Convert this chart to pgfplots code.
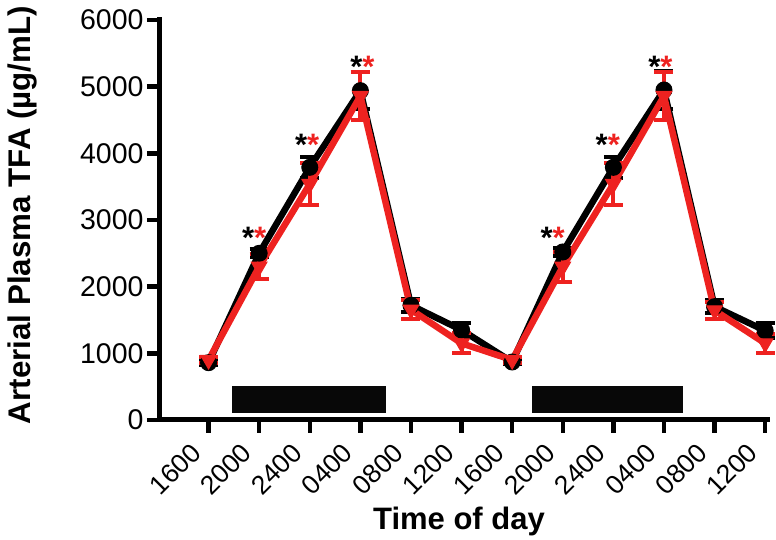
\documentclass[border=0pt]{standalone}
\usepackage{pgfplots}
\pgfplotsset{compat=1.18}
\usepackage{fontspec}
\setmainfont{Liberation Sans}
\definecolor{pred}{RGB}{238,34,32}
\begin{document}
\begin{tikzpicture}
\begin{axis}[
  scale only axis,
  width=607.7pt, height=400pt,
  xmin=-0.96, xmax=11.05,
  ymin=0, ymax=6000,
  axis x line=bottom, axis y line=left,
  axis line style={-, line width=5pt, line cap=rect},
  xtick={0,...,11},
  xticklabels={1600,2000,2400,0400,0800,1200,1600,2000,2400,0400,0800,1200},
  ytick={0,1000,...,6000},
  tick align=outside,
  major tick length=13pt,
  every tick/.style={black, line width=4.5pt},
  /pgf/number format/assume math mode=true,
  /pgf/number format/1000 sep={},
  scaled y ticks=false,
  xticklabel style={font=\fontsize{26.5}{26.5}\selectfont, rotate=45, anchor=east, xshift=-16pt, yshift=-2pt},
  yticklabel style={font=\fontsize{28.5}{28.5}\selectfont},
  every axis y label/.style={at={(axis description cs:-0.226,0.5125)}, rotate=90, anchor=center},
  every axis x label/.style={at={(axis description cs:0.492,-0.275)}, anchor=base},
  ylabel={\fontsize{31.3}{31.3}\selectfont\bfseries Arterial Plasma TFA (µg/mL)},
  xlabel={\fontsize{31}{31}\selectfont\bfseries Time of day},
  clip=false,
]
% dark-period bars
\addplot[fill=black!97, draw=none] coordinates {(0.46,105) (3.50,105) (3.50,510) (0.46,510)} -- cycle;
\addplot[fill=black!97, draw=none] coordinates {(6.40,105) (9.38,105) (9.38,510) (6.40,510)} -- cycle;
% black series
\addplot[black, line width=6.5pt, mark=*, mark size=8pt, mark options={solid, line width=1pt},
  error bars/.cd, y dir=both, y explicit,
  error bar style={line width=4pt, black},
  error mark options={rotate=90, mark size=9.5pt, line width=4pt, black}]
  table[x=x, y=y, y error=e] {
x y e
0 860 30
1 2500 60
2 3790 160
3 4940 280
4 1720 100
5 1350 100
6 870 30
7 2520 60
8 3790 160
9 4950 280
10 1700 100
11 1340 110
};
% red series
\addplot[pred, line width=6.5pt, mark=triangle*, mark size=9pt, mark options={solid, rotate=180, line width=1pt},
  error bars/.cd, y dir=both, y explicit,
  error bar style={line width=4pt, pred},
  error mark options={rotate=90, mark size=9.5pt, line width=4pt, pred}]
  table[x=x, y=y, y error=e] {
x y e
0 900 40
1 2300 190
2 3540 320
3 4860 360
4 1655 145
5 1150 150
6 900 40
7 2300 225
8 3540 320
9 4860 360
10 1645 130
11 1150 140
};
% significance asterisks
\node[anchor=base, inner sep=0pt, font=\fontsize{31}{31}\selectfont\bfseries] at (axis cs:0.90,2565) {*\textcolor{pred}{*}};
\node[anchor=base, inner sep=0pt, font=\fontsize{31}{31}\selectfont\bfseries] at (axis cs:1.95,3960) {*\textcolor{pred}{*}};
\node[anchor=base, inner sep=0pt, font=\fontsize{31}{31}\selectfont\bfseries] at (axis cs:3.04,5130) {*\textcolor{pred}{*}};
\node[anchor=base, inner sep=0pt, font=\fontsize{31}{31}\selectfont\bfseries] at (axis cs:6.80,2565) {*\textcolor{pred}{*}};
\node[anchor=base, inner sep=0pt, font=\fontsize{31}{31}\selectfont\bfseries] at (axis cs:7.89,3960) {*\textcolor{pred}{*}};
\node[anchor=base, inner sep=0pt, font=\fontsize{31}{31}\selectfont\bfseries] at (axis cs:8.93,5130) {*\textcolor{pred}{*}};
\end{axis}
\pgfresetboundingbox
\path (-160pt,-120pt) rectangle (616pt,420pt);
\end{tikzpicture}
\end{document}
